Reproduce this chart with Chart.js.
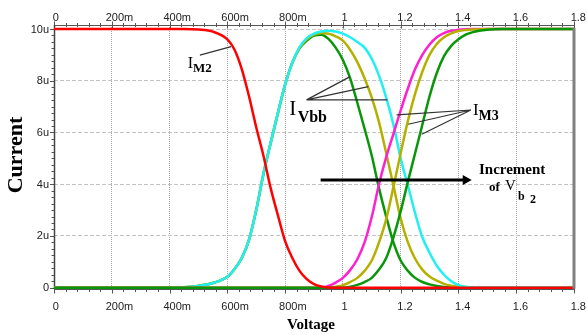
<!DOCTYPE html>
<html lang="en">
<head>
<meta charset="UTF-8">
<title>Current vs Voltage</title>
<script src="https://cdn.jsdelivr.net/npm/chart.js"></script>
<style>
  html, body { margin: 0; padding: 0; background: #fff; }
  .chart-box { position: relative; width: 587px; height: 335px; }
</style>
</head>
<body>
<div class="chart-box"><canvas id="ivChart"></canvas></div>
<script>
// sweep voltage (V)
const voltage = [0, 0.2, 0.4, 0.45, 0.5, 0.55, 0.6, 0.625, 0.65, 0.675, 0.7, 0.725, 0.75, 0.775,
  0.8, 0.825, 0.85, 0.875, 0.9, 0.925, 0.95, 0.975, 1.0, 1.025, 1.05, 1.075, 1.1, 1.125, 1.15,
  1.175, 1.2, 1.225, 1.25, 1.275, 1.3, 1.325, 1.35, 1.375, 1.4, 1.425, 1.45, 1.5, 1.55, 1.6, 1.8];

// currents in uA
const iM2 = [10, 10, 10, 10, 9.98, 9.9, 9.6, 9.2, 8.45, 7.4, 6.2, 5.1, 3.85, 2.8,
  1.8, 1.15, 0.65, 0.33, 0.14, 0.05, 0.01, 0, 0, 0, 0, 0, 0, 0, 0,
  0, 0, 0, 0, 0, 0, 0, 0, 0, 0, 0, 0, 0, 0, 0, 0];
const iVbbCyan = [0, 0, 0, 0.02, 0.07, 0.18, 0.42, 0.72, 1.15, 1.85, 3.0, 4.4, 5.6, 6.75,
  7.85, 8.7, 9.3, 9.65, 9.82, 9.9, 9.93, 9.9, 9.82, 9.68, 9.5, 9.28, 8.85, 8.2, 7.35,
  6.3, 5.0, 3.95, 2.88, 1.95, 1.35, 0.85, 0.5, 0.25, 0.1, 0.04, 0.01, 0, 0, 0, 0];
const iVbbOlive = [0, 0, 0, 0.02, 0.07, 0.18, 0.42, 0.72, 1.15, 1.85, 3.0, 4.4, 5.6, 6.75,
  7.85, 8.7, 9.27, 9.6, 9.78, 9.85, 9.82, 9.72, 9.55, 9.2, 8.72, 8.1, 7.35, 6.4, 5.2,
  3.95, 2.68, 1.75, 1.12, 0.7, 0.43, 0.27, 0.15, 0.08, 0.04, 0.02, 0, 0, 0, 0, 0];
const iVbbGreen = [0, 0, 0, 0.02, 0.07, 0.18, 0.42, 0.72, 1.15, 1.85, 3.0, 4.4, 5.6, 6.75,
  7.85, 8.7, 9.25, 9.55, 9.75, 9.78, 9.62, 9.28, 8.8, 8.1, 7.15, 6.15, 5.1, 3.85, 2.75,
  1.75, 1.05, 0.65, 0.38, 0.22, 0.13, 0.07, 0.03, 0.01, 0, 0, 0, 0, 0, 0, 0];
const iM3Magenta = [0, 0, 0, 0, 0, 0, 0, 0, 0, 0, 0, 0, 0, 0,
  0, 0, 0, 0, 0, 0, 0.07, 0.2, 0.38, 0.68, 1.1, 1.75, 2.74, 4.0, 5.05,
  5.95, 6.85, 7.7, 8.45, 9.0, 9.4, 9.68, 9.84, 9.93, 9.97, 9.99, 10, 10, 10, 10, 10];
const iM3Olive = [0, 0, 0, 0, 0, 0, 0, 0, 0, 0, 0, 0, 0, 0,
  0, 0, 0, 0, 0, 0, 0, 0.04, 0.1, 0.22, 0.38, 0.65, 1.05, 1.75, 2.65,
  3.9, 5.2, 6.45, 7.5, 8.35, 9.0, 9.42, 9.68, 9.83, 9.92, 9.96, 9.98, 10, 10, 10, 10];
const iM3Green = [0, 0, 0, 0, 0, 0, 0, 0, 0, 0, 0, 0, 0, 0,
  0, 0, 0, 0, 0, 0, 0, 0, 0, 0.04, 0.11, 0.22, 0.38, 0.7, 1.15,
  1.95, 2.95, 4.1, 5.2, 6.3, 7.4, 8.3, 8.95, 9.35, 9.6, 9.78, 9.88, 9.97, 10, 10, 10];

const xTicks = [0, 0.2, 0.4, 0.6, 0.8, 1.0, 1.2, 1.4, 1.6, 1.8];
const xTickLabels = ['0', '200m', '400m', '600m', '800m', '1', '1.2', '1.4', '1.6', '1.8'];
const yTicks = [0, 2, 4, 6, 8, 10];
const yTickLabels = ['0', '2u', '4u', '6u', '8u', '10u'];

// annotations, anchored in data units
const leaders = [
  { from: [0.505, 8.99], to: [[0.613, 9.32]] },
  { from: [0.874, 7.26], to: [[1.025, 8.16], [1.088, 7.77], [1.154, 7.26]] },
  { from: [1.443, 6.87], to: [[1.186, 6.68], [1.226, 6.32], [1.273, 5.93]] }
];
const arrowFrom = [0.923, 4.16];
const arrowTo = [1.446, 4.16];

const SERIF = '"Liberation Serif", "Times New Roman", serif';
const SANS = '"Liberation Sans", Arial, sans-serif';

function pts(values) {
  return voltage.map((v, i) => ({ x: v, y: values[i] }));
}

function curve(label, values, color) {
  return {
    label: label,
    data: pts(values),
    borderColor: color,
    borderWidth: 2.5,
    pointRadius: 0,
    cubicInterpolationMode: 'monotone',
    fill: false
  };
}

// text with a subscript part
function subText(ctx, main, mainFont, sub, subFont, px, py, gap, drop) {
  ctx.font = mainFont;
  ctx.fillText(main, px, py);
  const w = ctx.measureText(main).width;
  ctx.font = subFont;
  ctx.fillText(sub, px + w + gap, py + drop);
}

const ivDecor = {
  id: 'ivDecor',
  beforeDatasetsDraw(chart) {
    const { ctx, chartArea: a, scales: { x, y } } = chart;
    ctx.save();
    ctx.strokeStyle = '#555';
    ctx.lineWidth = 1;
    ctx.beginPath();
    ctx.moveTo(a.left, a.top + 0.5); ctx.lineTo(a.right, a.top + 0.5);
    ctx.moveTo(a.left, a.bottom + 0.5); ctx.lineTo(a.right, a.bottom + 0.5);
    // minor ticks on top and bottom axes
    for (let k = 0; k <= 45; k++) {
      const px = Math.round(x.getPixelForValue(k * 0.04)) + 0.5;
      const len = k % 5 === 0 ? 3.5 : 2;
      ctx.moveTo(px, a.top - len); ctx.lineTo(px, a.top + len);
      ctx.moveTo(px, a.bottom - len + 1); ctx.lineTo(px, a.bottom + len + 1);
    }
    // minor ticks on the left axis
    for (let k = 0; k <= 40; k++) {
      const py = Math.round(y.getPixelForValue(k * 0.25)) + 0.5;
      const len = k % 8 === 0 ? 4 : 2.5;
      ctx.moveTo(a.left - len, py); ctx.lineTo(a.left, py);
    }
    ctx.stroke();
    ctx.lineWidth = 1.5;
    ctx.strokeStyle = '#444';
    ctx.beginPath();
    ctx.moveTo(a.left + 0.5, a.top); ctx.lineTo(a.left + 0.5, a.bottom);
    ctx.stroke();
    ctx.restore();
  },
  afterDatasetsDraw(chart) {
    const { ctx, chartArea: a, scales: { x, y } } = chart;
    const at = p => [x.getPixelForValue(p[0]), y.getPixelForValue(p[1])];
    ctx.save();

    // right border
    ctx.strokeStyle = '#808080';
    ctx.lineWidth = 3;
    ctx.beginPath();
    ctx.moveTo(a.right, y.getPixelForValue(10) - 1);
    ctx.lineTo(a.right, y.getPixelForValue(0) + 1);
    ctx.stroke();

    // tick labels
    ctx.fillStyle = '#222';
    ctx.font = '11px ' + SANS;
    ctx.textBaseline = 'middle';
    ctx.textAlign = 'left';
    xTicks.forEach((v, i) => {
      const w = ctx.measureText(xTickLabels[i]).width;
      const px = x.getPixelForValue(v) - w * 0.22;
      ctx.fillText(xTickLabels[i], px, 307);
      ctx.fillText(xTickLabels[i], px, 17.5);
    });
    ctx.textAlign = 'right';
    yTicks.forEach((v, i) => {
      ctx.fillText(yTickLabels[i], 49, y.getPixelForValue(v) + 0.5);
    });

    // axis titles
    ctx.fillStyle = '#000';
    ctx.textBaseline = 'alphabetic';
    ctx.textAlign = 'center';
    ctx.font = 'bold 15px ' + SERIF;
    ctx.fillText('Voltage', 311, 329);
    ctx.save();
    ctx.translate(21.5, 155);
    ctx.rotate(-Math.PI / 2);
    ctx.font = 'bold 22px ' + SERIF;
    ctx.fillText('Current', 0, 0);
    ctx.restore();

    // leader lines
    ctx.strokeStyle = '#333';
    ctx.lineWidth = 1.2;
    ctx.beginPath();
    leaders.forEach(l => {
      const f = at(l.from);
      l.to.forEach(t => {
        const p = at(t);
        ctx.moveTo(f[0], f[1]);
        ctx.lineTo(p[0], p[1]);
      });
    });
    ctx.stroke();

    // arrow
    const s = at(arrowFrom), e = at(arrowTo);
    ctx.strokeStyle = '#000';
    ctx.fillStyle = '#000';
    ctx.lineWidth = 3;
    ctx.beginPath();
    ctx.moveTo(s[0], s[1]);
    ctx.lineTo(e[0] - 6, e[1]);
    ctx.stroke();
    ctx.beginPath();
    ctx.moveTo(e[0], e[1]);
    ctx.lineTo(e[0] - 9, e[1] - 5);
    ctx.lineTo(e[0] - 9, e[1] + 5);
    ctx.closePath();
    ctx.fill();

    // curve labels
    ctx.textAlign = 'left';
    let p = at([0.463, 8.48]);
    subText(ctx, 'I', '16px ' + SERIF, 'M2', 'bold 13px ' + SERIF, p[0], p[1], 0, 3.4);
    p = at([0.814, 6.68]);
    subText(ctx, 'I', '21px ' + SERIF, 'Vbb', 'bold 16px ' + SERIF, p[0], p[1], 1.5, 6.7);
    p = at([1.450, 6.68]);
    subText(ctx, 'I', '17px ' + SERIF, 'M3', 'bold 14px ' + SERIF, p[0], p[1], 0, 5);

    p = at([1.471, 4.39]);
    ctx.font = 'bold 15px ' + SERIF;
    ctx.fillText('Increment', p[0], p[1]);
    p = at([1.506, 3.74]);
    ctx.font = 'bold 13px ' + SERIF;
    ctx.fillText('of', p[0], p[1]);
    p = at([1.561, 3.78]);
    ctx.font = '15px ' + SERIF;
    ctx.fillText('V', p[0], p[1]);
    ctx.font = 'bold 12px ' + SERIF;
    ctx.fillText('b', p[0] + 13, p[1] + 10);
    ctx.fillText('2', p[0] + 25, p[1] + 13);

    ctx.restore();
  }
};

new Chart(document.getElementById('ivChart'), {
  type: 'line',
  data: {
    datasets: [
      curve('IM2', iM2, '#ff0000'),
      curve('IM3 3', iM3Green, '#0a960a'),
      curve('IM3 2', iM3Olive, '#b5b000'),
      curve('IM3 1', iM3Magenta, '#ff20d0'),
      curve('IVbb 1', iVbbCyan, '#20f0f0'),
      curve('IVbb 2', iVbbOlive, '#b5b000'),
      curve('IVbb 3', iVbbGreen, '#0a960a')
    ]
  },
  options: {
    responsive: true,
    maintainAspectRatio: false,
    animation: false,
    layout: { padding: { left: 54, right: 13, top: 25, bottom: 46 } },
    plugins: { legend: { display: false }, tooltip: { enabled: false } },
    scales: {
      x: {
        type: 'linear',
        min: 0,
        max: 1.8,
        afterBuildTicks: axis => { axis.ticks = xTicks.map(v => ({ value: v })); },
        ticks: { display: false },
        grid: { color: '#a8a8a8', lineWidth: 1, drawTicks: false },
        border: { display: false, dash: [1, 1] }
      },
      y: {
        type: 'linear',
        min: -0.05,
        max: 10.155,
        afterBuildTicks: axis => { axis.ticks = yTicks.map(v => ({ value: v })); },
        ticks: { display: false },
        grid: { color: '#c4c4c4', lineWidth: 1, drawTicks: false },
        border: { display: false, dash: [4, 2] }
      }
    }
  },
  plugins: [ivDecor]
});
</script>
</body>
</html>
